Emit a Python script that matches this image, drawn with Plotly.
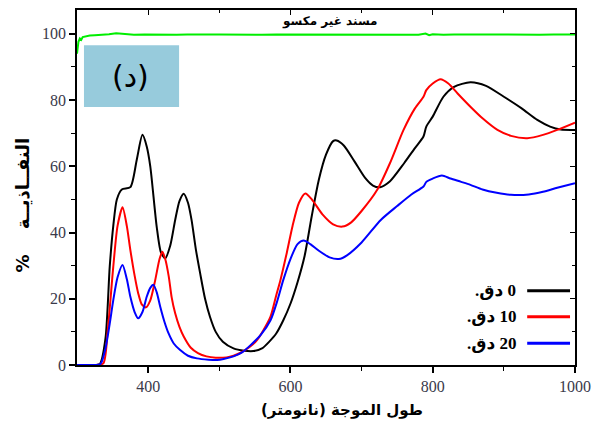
import plotly.graph_objects as go

# Transmittance spectra (%) vs wavelength (nm)
wl_0 = [300, 320, 332, 340, 346, 351, 356, 363, 375, 384, 392, 398, 403, 412, 418, 424, 431, 438, 444,
        450, 456, 461, 467, 473, 480, 487, 495, 505, 520, 535, 548, 560, 570, 580, 590, 600, 610, 620,
        630, 640, 650, 660, 665, 675, 690, 705, 716, 726, 740, 760, 775, 787, 791, 800, 815, 830, 853,
        875, 900, 925, 947, 965, 980, 1000]
t_0 = [0, 0, 0.3, 8, 29.7, 42, 50, 53, 53.7, 62, 69.5, 66, 60, 41.8, 34, 32.2, 36, 43.8, 49.5,
       51.7, 49, 43.8, 35, 27.8, 20, 14.5, 10, 7, 5, 4.3, 4.2, 5, 7, 9.5, 13.5, 18.5, 25, 33,
       45, 56, 63.5, 67.6, 67.8, 66.3, 61.5, 56.5, 54.2, 53.7, 55.5, 61, 65.5, 69, 72, 75, 81, 84, 85.4,
       84.3, 81, 77.5, 74, 72, 71.1, 71]

wl_10 = [300, 325, 337, 343, 351, 357, 364, 370, 375, 381, 386, 391, 397, 403, 410, 416, 420, 424, 429,
         433, 438, 444, 450, 460, 470, 482, 495, 510, 520, 530, 543, 553, 562, 572, 580, 586, 595, 603,
         612, 621, 630, 645, 660, 673, 685, 700, 722, 740, 759, 775, 787, 791, 800, 811, 822, 835, 853,
         870, 891, 910, 933, 955, 975, 1000]
t_10 = [0, 0, 0.5, 10, 29.7, 42, 47.6, 42, 34.7, 27, 21.7, 18.3, 17.4, 19.5, 25.7, 32, 34.2, 32, 26.7,
        20.5, 15.6, 11.5, 8.6, 5.2, 3.6, 2.6, 2.2, 2.3, 2.8, 3.7, 5.5, 7.5, 10.5, 14.6, 21, 25.7, 34, 42,
        49, 51.8, 50, 45.5, 42.5, 41.8, 43, 46.5, 52.9, 61, 71, 77.5, 81, 83, 85, 86.3, 85, 82, 78,
        74.5, 71, 69.2, 68.5, 69.5, 71, 73.2]

wl_20 = [300, 322, 333, 340, 346, 351, 357, 364, 370, 375, 381, 386, 392, 398, 403, 407.5, 412, 417, 423,
         428.6, 436, 445, 456, 468.5, 485, 497, 506, 520, 532, 544, 558, 572, 581, 590, 600, 610, 618.7,
         628, 640, 655, 668, 680, 700, 727, 750, 770, 787, 791, 800, 813, 825, 840, 853, 870, 890, 910,
         935, 955, 975, 1000]
t_20 = [0, 0, 0.3, 5, 12.5, 19.6, 26.5, 30.2, 26, 20.6, 16, 14.1, 16, 20.6, 23.3, 24.2, 22, 17.6, 13,
        9.6, 6.5, 4.5, 2.8, 2, 1.6, 1.5, 1.8, 2.6, 3.8, 6, 9, 13.5, 19, 25.7, 32, 36.5, 37.6,
        36.5, 34.5, 32.5, 32, 33.2, 37, 43.8, 48, 51.5, 53.9, 55.3, 56.3, 57.2, 56.3, 55.3, 54.4, 53, 52, 51.4,
        51.5, 52.3, 53.5, 54.9]

# Uncoated substrate baseline
wl_sub = [300, 302, 304, 306, 308, 312, 318, 325, 335, 345, 355, 362, 370, 380, 395, 410, 425, 440, 455,
          470, 485, 500, 520, 540, 560, 580, 600, 620, 640, 660, 680, 700, 720, 740, 760, 780, 790,
          795, 800, 815, 830, 850, 870, 890, 910, 930, 950, 970, 985, 1000]
t_sub = [94, 97.6, 98.6, 98.2, 99.0, 99.2, 99.5, 99.6, 99.7, 99.9, 100.2, 100.1, 99.8, 99.7, 99.8, 99.7,
         99.8, 99.7, 99.8, 99.7, 99.8, 99.8, 99.7, 99.8, 99.7, 99.8, 99.8, 99.7, 99.8, 99.7, 99.8, 99.7,
         99.8, 99.7, 99.8, 99.7, 100.1, 99.6, 99.9, 99.7, 99.8, 99.7, 99.8, 99.8, 99.7, 99.8, 99.7, 99.8,
         99.7, 99.8]

series_names = ["0 دق.", "10 دق.", "20 دق."]
series_colors = ["#000000", "#ff0000", "#0000ff"]
x_ticks = [400, 600, 800, 1000]
y_ticks = [0, 20, 40, 60, 80, 100]

RLE, PDF = "\u202B", "\u202C"
SERIF = "Liberation Serif, DejaVu Serif, serif"
ARABIC = "DejaVu Sans, sans-serif"

fig = go.Figure()
fig.add_trace(go.Scatter(x=wl_sub, y=t_sub, mode="lines", line=dict(color="#00ee00", width=2),
                         showlegend=False, hoverinfo="skip"))
for wl, t, name, col in zip([wl_0, wl_10, wl_20], [t_0, t_10, t_20], series_names, series_colors):
    fig.add_trace(go.Scatter(x=wl, y=t, mode="lines", name=name,
                             line=dict(color=col, width=2, shape="spline", smoothing=0.7),
                             showlegend=False))

# empty trace so the mirrored top/right axes are drawn
fig.add_trace(go.Scatter(x=[None], y=[None], xaxis="x2", yaxis="y2", showlegend=False, hoverinfo="skip"))

axis_common = dict(showgrid=False, zeroline=False, automargin=False)
fig.update_layout(
    width=595, height=430,
    margin=dict(l=77, r=20, t=10, b=65, autoexpand=False),
    plot_bgcolor="white", paper_bgcolor="white",
    xaxis=dict(range=[300, 1000], tickvals=x_ticks, ticks="outside", ticklen=6, tickwidth=1.5,
               tickcolor="black", showline=True, linewidth=1.5, linecolor="black", mirror=True,
               minor=dict(tickvals=[500, 700, 900], ticks="outside", ticklen=4, tickwidth=1.2,
                          tickcolor="black"),
               tickfont=dict(family=SERIF, size=16, color="#3a3a4a"), **axis_common),
    yaxis=dict(range=[0, 107.2], tickvals=y_ticks, ticks="outside", ticklen=6, tickwidth=1.5,
               tickcolor="black", showline=True, linewidth=1.5, linecolor="black", mirror=True,
               minor=dict(tickvals=[10, 30, 50, 70, 90], ticks="outside", ticklen=4, tickwidth=1.2,
                          tickcolor="black"),
               tickfont=dict(family=SERIF, size=16, color="#3a3a4a"), **axis_common),
    xaxis2=dict(range=[300, 1000], overlaying="x", side="top", tickvals=x_ticks, ticks="inside",
                ticklen=5, tickwidth=1.2, tickcolor="black", showticklabels=False,
                minor=dict(tickvals=[500, 700, 900], ticks="inside", ticklen=3, tickcolor="black"),
                **axis_common),
    yaxis2=dict(range=[0, 107.2], overlaying="y", side="right", tickvals=y_ticks, ticks="inside",
                ticklen=5, tickwidth=1.2, tickcolor="black", showticklabels=False,
                minor=dict(tickvals=[10, 30, 50, 70, 90], ticks="inside", ticklen=3, tickcolor="black"),
                **axis_common),
    showlegend=False,
)

# panel label box
fig.add_shape(type="rect", xref="paper", yref="paper", x0=0.014, x1=0.205, y0=0.727, y1=0.901,
              fillcolor="#97cbdc", line=dict(width=0), layer="below")
fig.add_annotation(text="(د)", xref="paper", yref="paper", x=0.108, y=0.812, showarrow=False,
                   xanchor="center", yanchor="middle",
                   font=dict(family=ARABIC, size=30, color="black"))

# substrate label
fig.add_annotation(text="<b>مسند غير مكسو</b>", xref="paper", yref="paper", x=0.508, y=0.968,
                   xanchor="center", yanchor="middle", showarrow=False,
                   font=dict(family=ARABIC, size=12, color="black"))

# legend: label on the left, line sample on the right
legend_y = [0.209, 0.136, 0.061]
for name, col, ly in zip(series_names, series_colors, legend_y):
    fig.add_shape(type="line", xref="paper", yref="paper", x0=0.904, x1=0.99, y0=ly, y1=ly,
                  line=dict(color=col, width=3))
    fig.add_annotation(text="<b>" + RLE + name + PDF + "</b>", xref="paper", yref="paper",
                       x=0.886, y=ly, xanchor="right", yanchor="middle", showarrow=False,
                       font=dict(family=SERIF + ", " + ARABIC, size=17, color="black"))

# axis titles
fig.add_annotation(text="<b>" + RLE + "طول الموجة (نانومتر)" + PDF + "</b>", xref="paper", yref="paper",
                   x=0.532, y=-0.127, xanchor="center", yanchor="middle", showarrow=False,
                   font=dict(family=ARABIC, size=15, color="black"))
fig.add_annotation(text="<b>%    النفــاذيــة</b>", xref="paper", yref="paper", x=-0.11, y=0.45,
                   textangle=-90, xanchor="center", yanchor="middle", showarrow=False,
                   font=dict(family=ARABIC, size=18, color="black"))

fig.write_html("out.html")
